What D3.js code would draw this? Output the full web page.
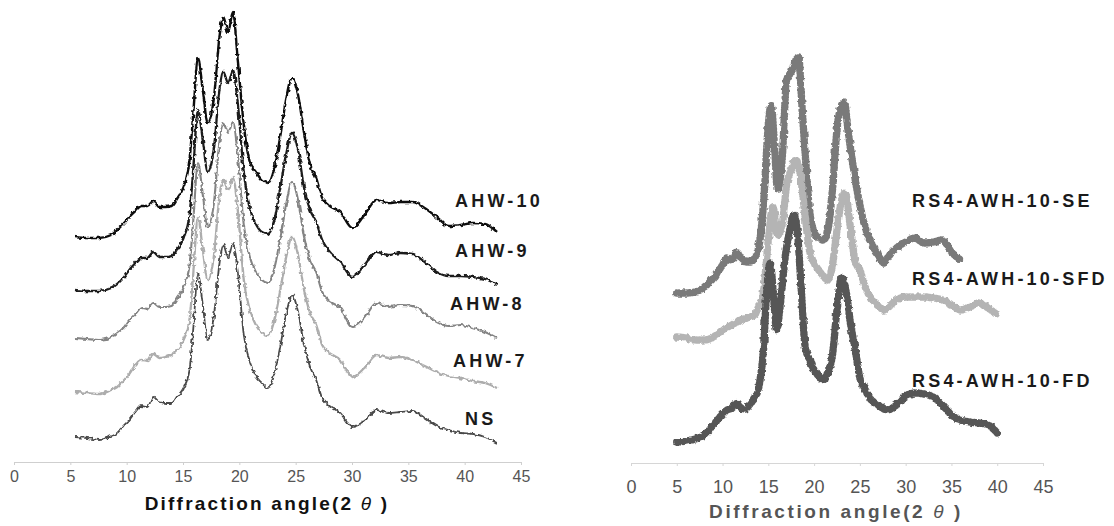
<!DOCTYPE html>
<html>
<head>
<meta charset="utf-8">
<script src="https://cdn.jsdelivr.net/npm/d3@7/dist/d3.min.js"></script>
<style>
  html, body { margin: 0; padding: 0; background: #fff; }
  svg { display: block; }
</style>
</head>
<body>
<svg id="chart" width="1114" height="526"></svg>
<script>
// ---- X-ray diffraction patterns (stacked, arbitrary intensity) ----

// Left panel: native starch and AHW-treated samples
const thetaLeft = [5,6,7,8,8.5,9,9.5,10,10.5,11,11.5,12,12.5,13,13.5,14,14.5,14.8,15.2,15.6,16,16.5,
  17,17.3,17.7,18.1,18.5,19,19.5,20,20.5,21,21.5,22,22.5,23,23.5,24,24.5,25,25.5,
  26,27,28,29,30,31,32,33,34,35,36,37,38,39,40];

const nsValues = [23,22,20,24,27,34,40,48,54,53,63,58,57,57,64,72,90,130,187,155,120,142,
  198,215,202,217,188,125,98,84,77,72,85,112,145,165,148,115,93,80,62,
  55,47,33,39,50,47,48,49,42,34,30,27,26,23,17];

const ahw7Values = [68,67,66,70,73,79,86,95,100,99,106,102,103,105,110,120,140,185,243,210,180,202,
  265,280,270,282,250,180,150,135,127,124,138,168,202,223,205,170,147,135,115,
  108,100,83,92,105,102,103,100,94,88,84,82,79,77,72];

const ahw8Values = [122,121,120,123,127,132,140,146,152,151,157,153,153,154,162,172,195,238,297,265,233,255,
  320,337,327,338,305,235,203,188,180,177,190,220,255,278,260,223,200,188,168,
  160,152,133,142,157,153,155,154,147,138,134,135,132,128,122];

const ahw9Values = [170,169,169,172,176,182,190,197,202,202,208,203,203,204,211,222,245,290,350,320,288,310,
  372,388,377,390,357,288,252,236,228,226,238,270,305,327,310,272,250,238,220,
  210,198,183,195,208,205,207,206,198,188,184,184,183,181,175];

const ahw10Values = [223,222,222,225,230,236,243,249,254,254,259,253,253,254,262,273,300,345,402,370,337,360,
  425,443,428,448,400,335,298,288,280,277,290,322,360,382,365,327,295,282,262,
  255,248,232,245,260,257,258,258,252,243,234,235,237,236,228];

const leftNames  = ["NS", "AHW-7", "AHW-8", "AHW-9", "AHW-10"];
const leftColors = ["#4a4a4a", "#adadad", "#848484", "#1c1c1c", "#101010"];
const leftWidths = [1.8, 2.3, 2.1, 2.3, 2.4];
const leftLabelX = [465, 453, 450, 455, 455];
const leftLabelY = [425, 367, 310, 257, 207];

// Right panel: RS4 samples dried in different ways
const thetaSE = [5,6,7,8,9,10,10.5,11,11.5,12,12.5,13,13.5,14,14.5,15,15.3,15.7,16,16.5,
  17,17.5,18,18.3,18.7,19,19.5,20,20.5,21,21.5,22,22.5,23,23.3,23.7,24,24.5,25,25.5,26,
  27,27.6,28,29,30,31,32,33,34,35,36];
const seValues = [167,167,168,173,182,195,202,200,208,202,198,198,202,215,260,335,355,310,270,300,
  380,388,400,403,350,310,250,228,222,220,230,270,330,355,358,330,310,280,255,235,222,
  205,197,202,212,218,222,217,218,220,208,200];

const thetaSFD = [5,6,7,8,9,10,11,12,13,13.5,14,14.5,15,15.5,16,16.5,17,17.5,18,18.5,19,19.5,
  20,20.5,21,21.5,22,22.5,23,23.4,24,24.5,25,25.5,26,27,27.6,28,29,30,31,32,33,34,35,36,37,38,39,40];
const sfdValues = [123,122,120,120,123,130,135,140,143,145,155,170,220,253,225,235,275,290,300,285,245,210,
  197,190,184,180,195,230,260,267,230,198,190,175,165,155,150,152,160,163,163,163,162,160,155,150,153,157,152,145];

const thetaFD = [5,6,7,8,9,10,10.5,11,11.5,12,12.5,13,13.5,14,14.5,14.8,15.2,15.6,15.9,16.3,16.8,17.3,17.8,
  18.2,18.6,19,19.5,20,20.5,21,21.5,22,22.5,23,23.5,24,24.5,25,25.5,26,27,28,29,30,31,32,33,34,35,36,37,38,39,40];
const fdValues = [18,19,21,25,35,46,50,52,57,52,51,56,62,75,115,165,197,160,130,155,200,228,245,
  225,170,115,100,90,84,80,88,105,150,183,168,135,110,82,72,63,55,50,55,64,67,66,63,55,45,40,38,37,35,27];

const rightNames  = ["RS4-AWH-10-SE", "RS4-AWH-10-SFD", "RS4-AWH-10-FD"];
const rightColors = ["#7a7a7a", "#b4b4b4", "#565656"];
const rightLabelY = [207, 285, 387];
const rightLabelX = 912;

const xTicks = [0,5,10,15,20,25,30,35,40,45];
const axisTitle = "Diffraction angle(2";

// ---- scales ----
const svg = d3.select("#chart");
const y = d3.scaleLinear().domain([0, 460]).range([460, 0]);

const xAxisL = d3.scaleLinear().domain([0, 45]).range([14, 521]);
const xDataL = d3.scaleLinear().domain([5, 40]).range([75, 497]);
const xR = d3.scaleLinear().domain([0, 45]).range([631, 1043]);

// ---- defs: noise textures for the scan lines ----
const defs = svg.append("defs");
function noiseFilter(id, freq, scale, seed) {
  const f = defs.append("filter").attr("id", id)
    .attr("filterUnits", "userSpaceOnUse")
    .attr("x", 0).attr("y", 0).attr("width", 1114).attr("height", 526);
  f.append("feTurbulence").attr("type", "fractalNoise").attr("baseFrequency", freq)
    .attr("numOctaves", 1).attr("seed", seed).attr("result", "n");
  f.append("feDisplacementMap").attr("in", "SourceGraphic").attr("in2", "n")
    .attr("scale", scale).attr("xChannelSelector", "R").attr("yChannelSelector", "G");
}
noiseFilter("scanNoise", 0.28, 4.5, 7);
noiseFilter("beadNoise", 0.3, 4, 3);

// ---- left panel ----
const leftSeries = [nsValues, ahw7Values, ahw8Values, ahw9Values, ahw10Values];
const lineL = d3.line().x(d => xDataL(d[0])).y(d => y(d[1])).curve(d3.curveMonotoneX);
const gL = svg.append("g").attr("filter", "url(#scanNoise)");
leftSeries.forEach((vals, i) => {
  gL.append("path")
    .datum(thetaLeft.map((t, k) => [t, vals[k]]))
    .attr("fill", "none")
    .attr("stroke", leftColors[i])
    .attr("stroke-width", leftWidths[i])
    .attr("stroke-linejoin", "round")
    .attr("d", lineL);
});

const labelStyle = sel => sel
  .attr("font-family", "'Liberation Sans', Arial, sans-serif")
  .attr("font-weight", "bold")
  .attr("font-size", 18)
  .attr("letter-spacing", 3.2)
  .attr("fill", "#1a1a1a");

leftNames.forEach((name, i) => {
  svg.append("text").attr("x", leftLabelX[i]).attr("y", leftLabelY[i]).text(name).call(labelStyle);
});

// left axis
const axL = svg.append("g").attr("transform", "translate(0,462)")
  .call(d3.axisBottom(xAxisL).tickValues(xTicks).tickSize(3).tickPadding(6).tickFormat(d3.format("d")));
axL.select(".domain").attr("stroke", "#cfcfcf");
axL.selectAll(".tick line").attr("stroke", "#cfcfcf");
axL.selectAll(".tick text")
  .attr("font-family", "'Liberation Sans', Arial, sans-serif")
  .attr("font-size", 16).attr("fill", "#555");

const titleL = svg.append("text").attr("x", 267).attr("y", 510)
  .attr("text-anchor", "middle")
  .attr("font-family", "'Liberation Sans', Arial, sans-serif")
  .attr("font-weight", "bold").attr("font-size", 19).attr("letter-spacing", 2.2)
  .attr("fill", "#111");
titleL.append("tspan").text(axisTitle);
titleL.append("tspan").attr("font-style", "italic").attr("font-weight", "normal").text(" θ ");
titleL.append("tspan").text(")");

// ---- right panel ----
const rightSeries = [
  [thetaSE, seValues],
  [thetaSFD, sfdValues],
  [thetaFD, fdValues]
];
const lineR = d3.line().x(d => xR(d[0])).y(d => y(d[1])).curve(d3.curveMonotoneX);
const gR = svg.append("g").attr("filter", "url(#beadNoise)");
rightSeries.forEach(([th, vals], i) => {
  const data = th.map((t, k) => [t, vals[k]]);
  // solid core
  gR.append("path").datum(data)
    .attr("fill", "none").attr("stroke", rightColors[i])
    .attr("stroke-width", 4.5).attr("stroke-linejoin", "round").attr("stroke-linecap", "round")
    .attr("d", lineR);
  // beaded outline of the dense markers
  gR.append("path").datum(data)
    .attr("fill", "none").attr("stroke", rightColors[i])
    .attr("stroke-width", 7.5).attr("stroke-linecap", "round")
    .attr("stroke-dasharray", "0.1 3.2")
    .attr("d", lineR);
});

rightNames.forEach((name, i) => {
  svg.append("text").attr("x", rightLabelX).attr("y", rightLabelY[i]).text(name).call(labelStyle);
});

const axR = svg.append("g").attr("transform", "translate(0,463)")
  .call(d3.axisBottom(xR).tickValues(xTicks).tickSize(3).tickPadding(14).tickFormat(d3.format("d")));
axR.select(".domain").attr("stroke", "#d6d6d6");
axR.selectAll(".tick line").attr("stroke", "#d6d6d6");
axR.selectAll(".tick text")
  .attr("font-family", "'Liberation Sans', Arial, sans-serif")
  .attr("font-size", 18).attr("fill", "#555");

const titleR = svg.append("text").attr("x", 836).attr("y", 518)
  .attr("text-anchor", "middle")
  .attr("font-family", "'Liberation Sans', Arial, sans-serif")
  .attr("font-weight", "bold").attr("font-size", 19).attr("letter-spacing", 2.6)
  .attr("fill", "#555");
titleR.append("tspan").text(axisTitle);
titleR.append("tspan").attr("font-style", "italic").attr("font-weight", "normal").text(" θ ");
titleR.append("tspan").text(")");
</script>
</body>
</html>
